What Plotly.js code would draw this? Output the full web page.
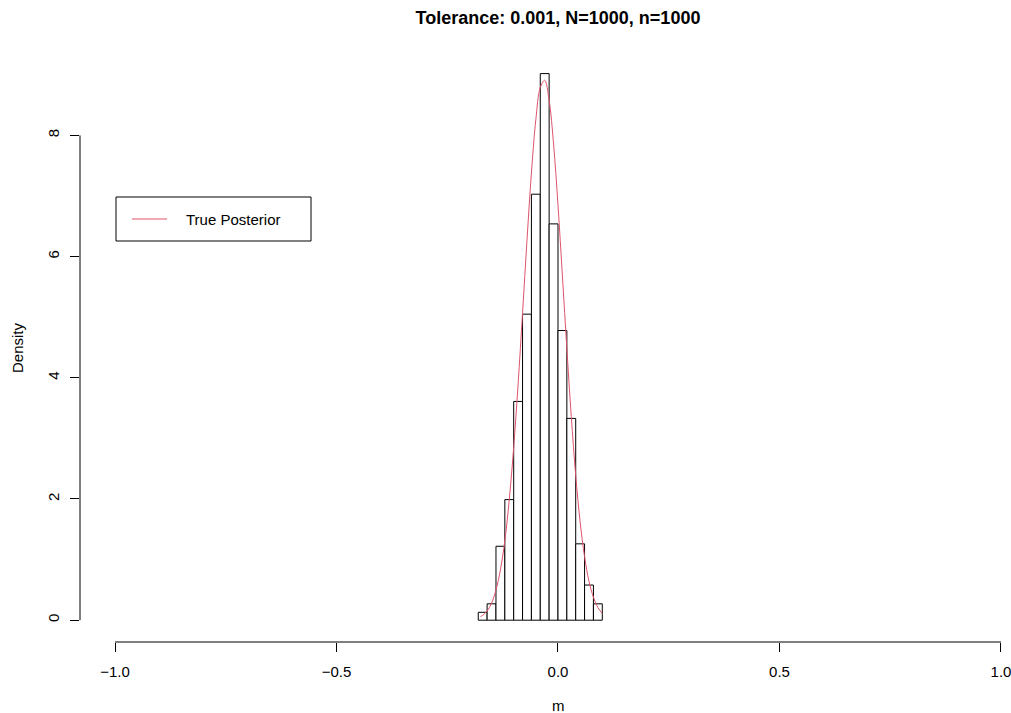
<!DOCTYPE html>
<html>
<head>
<meta charset="utf-8">
<script src="https://cdn.plot.ly/plotly-3.0.1.min.js"></script>
<style>html,body{margin:0;padding:0;background:#fff;}#chart{width:1011px;height:713px;}</style>
</head>
<body>
<div id="chart"></div>
<script>
// Histogram breaks and densities
const breaks = [-0.18,-0.16,-0.14,-0.12,-0.10,-0.08,-0.06,-0.04,-0.02,0.00,0.02,0.04,0.06,0.08,0.10];
const density = [0.13,0.27,1.22,1.99,3.61,5.05,7.03,9.02,6.54,4.78,3.33,1.26,0.58,0.27];

// True posterior curve
const curveX = [-0.175,-0.17,-0.16,-0.15,-0.14,-0.13,-0.12,-0.11,-0.10,-0.09,-0.08,-0.07,-0.06,-0.05,-0.04,-0.03,-0.02,-0.01,0.00,0.01,0.02,0.03,0.04,0.05,0.06,0.07,0.08,0.09,0.10];
const curveY = [0.06,0.08,0.15,0.28,0.50,0.83,1.31,1.99,2.85,3.90,5.07,6.27,7.38,8.26,8.79,8.91,8.58,7.86,6.85,5.68,4.48,3.36,2.39,1.62,1.05,0.64,0.38,0.21,0.11];

const xTicks = [-1,-0.5,0,0.5,1];
const xTickText = ['\u22121.0','\u22120.5','0.0','0.5','1.0'];
const yTicks = [0,2,4,6,8];
const yTickText = ['0','2','4','6','8'];

const titleText = 'Tolerance: 0.001, N=1000, n=1000';
const xLabel = 'm';
const yLabel = 'Density';
const legendName = 'True Posterior';
const curveColor = '#DF536B';

const centers = density.map((d,i)=> (breaks[i]+breaks[i+1])/2);
const widths = density.map((d,i)=> breaks[i+1]-breaks[i]);

const FONT = 'Liberation Sans, Arial, Helvetica, sans-serif';
const FS = 15;

const traces = [
  {
    type:'bar', x:centers, y:density, width:widths,
    marker:{color:'#ffffff', line:{color:'#000000', width:1}},
    showlegend:false, hoverinfo:'skip'
  },
  {
    type:'scatter', mode:'lines', x:curveX, y:curveY, name:legendName,
    line:{color:curveColor, width:1, shape:'spline'}, showlegend:false
  }
];

// plot area: x 80..1011 px, y 53..642 px
const P = {l:80, t:53, w:931, h:589};
const px = v => (v-P.l)/P.w;
const py = v => (P.t+P.h-v)/P.h;

const layout = {
  width:1011, height:713,
  margin:{l:80, r:0, t:53, b:71},
  paper_bgcolor:'#ffffff', plot_bgcolor:'#ffffff',
  font:{family:FONT, size:FS, color:'#000000'},
  title:{text:'<b>'+titleText+'</b>', font:{family:FONT, size:18, color:'#000'},
         xref:'container', yref:'container', x:558/1011, xanchor:'center', y:1-18/713, yanchor:'middle'},
  xaxis:{range:[-1.079,1.0226], showgrid:false, zeroline:false, showline:false,
         tickmode:'array', tickvals:xTicks, ticktext:xTickText,
         ticks:'outside', ticklen:9, tickwidth:1, tickcolor:'#000',
         ticklabelstandoff:7, ticklabeloverflow:'allow', tickfont:{family:FONT, size:FS}},
  yaxis:{range:[-0.36,9.36], showgrid:false, zeroline:false, showline:false,
         tickmode:'array', tickvals:yTicks, ticktext:yTickText, tickangle:-90,
         ticks:'outside', ticklen:9, tickwidth:1, tickcolor:'#000',
         ticklabelstandoff:5, tickfont:{family:FONT, size:FS}},
  bargap:0,
  showlegend:false,
  shapes:[
    {type:'line', xref:'x', yref:'paper', x0:xTicks[0], x1:xTicks[xTicks.length-1], y0:0, y1:0, line:{color:'#000', width:1}},
    {type:'line', xref:'paper', yref:'y', x0:0, x1:0, y0:yTicks[0], y1:yTicks[yTicks.length-1], line:{color:'#000', width:1}},
    // legend box and key
    {type:'rect', xref:'paper', yref:'paper', x0:px(116), x1:px(311), y0:py(241), y1:py(197), line:{color:'#000', width:1}, fillcolor:'#fff'},
    {type:'line', xref:'paper', yref:'paper', x0:px(132), x1:px(167), y0:py(219), y1:py(219), line:{color:curveColor, width:1}}
  ],
  annotations:[
    {text:legendName, xref:'paper', yref:'paper', x:px(184), y:py(219), xanchor:'left', yanchor:'middle', showarrow:false, font:{family:FONT, size:FS}},
    {text:xLabel, xref:'paper', yref:'paper', x:px(558), y:py(705), xanchor:'center', yanchor:'middle', showarrow:false, font:{family:FONT, size:FS}},
    {text:yLabel, xref:'paper', yref:'paper', x:px(17), y:py(348), xanchor:'center', yanchor:'middle', textangle:-90, showarrow:false, font:{family:FONT, size:FS}}
  ]
};

Plotly.newPlot('chart', traces, layout, {displayModeBar:false, staticPlot:true});
</script>
</body>
</html>
